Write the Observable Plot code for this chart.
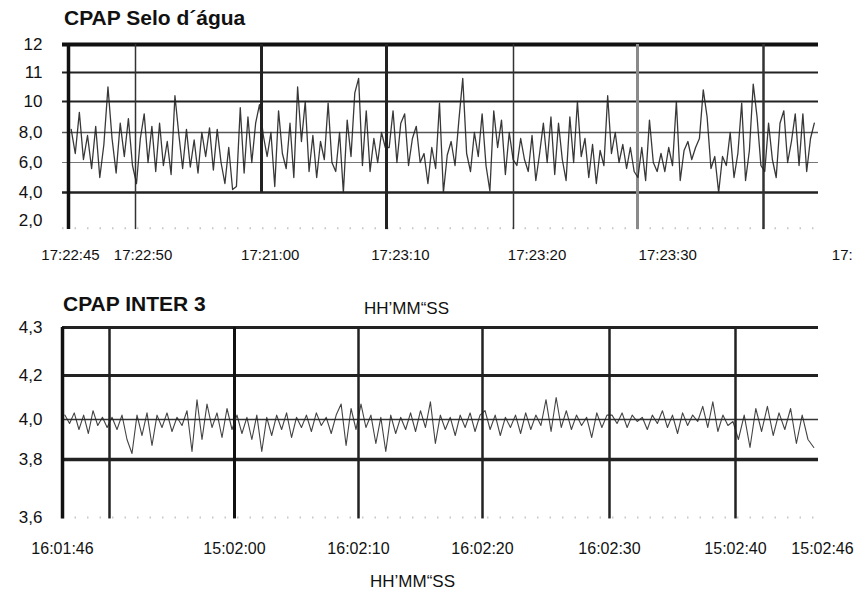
<!DOCTYPE html>
<html><head><meta charset="utf-8">
<script src="https://cdn.jsdelivr.net/npm/d3@7"></script>
<script src="https://cdn.jsdelivr.net/npm/@observablehq/plot@0.6"></script>
<style>
body{margin:0;background:#fff;font-family:"Liberation Sans",Arial,sans-serif;}
#wrap{position:relative;width:859px;height:594px;overflow:hidden;background:#fff;}
.abs{position:absolute;white-space:nowrap;color:#111;}
.title{font-weight:bold;font-size:21px;line-height:21px;}
.unit{font-size:17px;line-height:17px;}
.narrow{font-family:"Liberation Sans Narrow","Liberation Sans",Arial,sans-serif;}
</style></head><body><div id="wrap"></div>
<script>
// ---- text ----
const topTitle = "CPAP Selo d´água";
const bottomTitle = "CPAP INTER 3";
const axisTitle = "HH’MM“SS";

// ---- top panel ----
const topYTicks = [2, 4, 6, 8, 10, 11, 12];
const topYLabels = ["2,0", "4,0", "6,0", "8,0", "10", "11", "12"];
const topGridSecs = [45, 50, 60, 70, 80, 90, 100];
const topXLabelSecs = [45.15, 50.6, 60.7, 71.1, 81.9, 92.4, 106.3];
const topXLabels = ["17:22:45", "17:22:50", "17:21:00", "17:23:10", "17:23:20", "17:23:30", "17:"];
const topStart = 45.2, topStep = 0.305;
const topValues = [
  8.2, 6.6, 9.3, 6.2, 7.8, 5.6, 8.4, 5.0, 7.2, 10.5, 7.6, 5.3, 8.6, 6.4, 8.9, 5.8,
  4.6, 7.6, 9.2, 6.0, 8.4, 5.4, 8.6, 5.8, 7.4, 5.2, 10.2, 7.9, 5.6, 8.2, 5.7, 7.5, 5.3, 8.0, 6.4, 8.3, 5.5, 8.2, 6.0, 4.6, 7.0, 4.2, 4.4, 9.6, 5.3, 9.0, 6.0, 8.6, 9.8,
  7.8, 6.4, 8.0, 4.4, 9.4, 6.6, 5.6, 8.6, 5.0, 10.5, 7.4, 10.0, 5.4, 7.8, 5.0, 7.4, 6.2, 9.9, 6.0, 5.4, 8.0, 4.0, 8.8, 6.4, 10.3, 10.8, 5.8, 9.4, 5.4, 7.6, 6.0, 8.0, 7.0,
  7.0, 9.4, 6.0, 8.6, 9.2, 5.8, 7.6, 8.4, 6.0, 6.6, 4.6, 7.0, 5.6, 9.9, 4.0, 6.5, 7.4, 5.8, 8.8, 10.8, 6.6, 5.4, 8.0, 6.4, 9.2, 5.8, 4.1, 9.4, 7.0, 8.8, 5.2, 8.0, 6.2,
  5.8, 7.6, 6.2, 5.4, 7.8, 4.8, 6.6, 8.6, 6.0, 9.0, 5.2, 8.6, 6.2, 4.8, 9.0, 6.0, 10.0, 6.4, 7.6, 5.0, 7.2, 4.6, 6.8, 5.8, 10.2, 6.6, 8.0, 6.0, 7.2, 5.6, 7.0, 5.4, 5.0,
  7.0, 4.8, 8.8, 6.0, 5.4, 6.6, 5.4, 7.0, 5.8, 10.0, 4.8, 6.8, 7.4, 6.2, 7.0, 7.6, 10.4, 9.0, 5.6, 6.4, 4.0, 6.4, 5.8, 8.0, 5.0, 6.6, 9.9, 4.8, 6.8, 10.6, 9.0, 5.8, 5.4,
  8.6, 6.2, 5.0, 8.6, 9.4, 6.0, 7.4, 9.2, 5.8, 9.2, 5.4, 7.6, 8.6
];

// ---- bottom panel ----
const botYTicks = [3.6, 3.8, 4.0, 4.2, 4.3];
const botYLabels = ["3,6", "3,8", "4,0", "4,2", "4,3"];
const botGridSecs = [46, 50, 60, 70, 80, 90, 100];
const botXLabelSecs = [46, 60, 70, 80, 90, 100, 106];
const botXLabels = ["16:01:46", "15:02:00", "16:02:10", "16:02:20", "16:02:30", "15:02:40", "15:02:46"];
const botStart = 46.2, botStep = 0.4;
const botValues = [
  4.02, 3.98, 4.03, 3.95, 4.02, 3.93, 4.04, 3.97, 4.01, 3.96,
  4.01, 3.95, 4.02, 3.90, 3.83, 4.02, 3.92, 4.03, 3.87, 4.02, 3.96, 4.03, 3.94, 4.01, 3.97, 4.04, 3.84, 4.09, 3.90, 4.07, 3.96, 4.03, 3.91, 4.05, 3.95,
  4.02, 3.93, 4.01, 3.90, 4.02, 3.84, 4.01, 3.92, 4.02, 3.95, 4.03, 3.91, 4.01, 3.96, 4.02, 3.94, 4.03, 3.97, 4.01, 3.93, 4.02, 4.07, 3.87, 4.05, 3.95,
  4.07, 3.96, 4.02, 3.88, 4.01, 3.84, 4.02, 3.93, 4.01, 3.95, 4.03, 3.94, 4.04, 3.96, 4.08, 3.88, 4.02, 3.95, 4.01, 3.92, 4.02, 3.96, 4.03, 3.94, 4.02,
  4.04, 3.95, 4.02, 3.92, 4.01, 3.96, 4.02, 3.93, 4.03, 3.95, 4.02, 3.97, 4.09, 3.94, 4.10, 3.96, 4.04, 3.95, 4.02, 3.97, 4.01, 3.91, 4.03, 3.96, 4.02,
  4.02, 3.98, 4.03, 3.96, 4.02, 3.99, 4.01, 3.95, 4.02, 3.98, 4.04, 3.96, 4.02, 3.93, 4.03, 3.97, 4.02, 3.99, 4.06, 3.96, 4.08, 3.94, 4.02, 3.97, 3.99,
  3.90, 4.02, 3.86, 4.05, 3.94, 4.06, 3.92, 4.03, 3.95, 4.05, 3.88, 4.02, 3.90, 3.86
];

// ---- build ----
const wrap = document.getElementById("wrap");
const FONT = '"Liberation Sans", Arial, sans-serif';
const NARROW = '"Liberation Sans Narrow", "Liberation Sans", Arial, sans-serif';
const mapOf = (k, v) => new Map(k.map((d, i) => [d, v[i]]));

const topYMap = mapOf(topYTicks, topYLabels);
const topXMap = mapOf(topXLabelSecs, topXLabels);
const botYMap = mapOf(botYTicks, botYLabels);
const botXMap = mapOf(botXLabelSecs, botXLabels);

// line styles (width, colour) by grid value
const topHStyle = new Map([[12, [4, "#111"]], [11, [2, "#222"]], [10, [2, "#222"]], [8, [1.5, "#555"]], [6, [1.2, "#777"]], [4, [2.5, "#222"]]]);
const topVStyle = new Map([[45, [3.5, "#111"]], [50, [1.5, "#333"]], [60, [3, "#222"]], [70, [3, "#222"]], [80, [1.5, "#333"]], [90, [3, "#8a8a8a"]], [100, [2.5, "#333"]]]);
const botHStyle = new Map([[4.3, [3, "#222"]], [4.2, [3, "#222"]], [4.0, [1.5, "#333"]], [3.8, [3.5, "#222"]]]);
const botVStyle = new Map([[46, [3.5, "#111"]], [50, [2.5, "#222"]], [60, [3, "#111"]], [70, [2.5, "#222"]], [80, [2.5, "#222"]], [90, [2.5, "#222"]], [100, [2.5, "#222"]]]);

const topPlot = Plot.plot({
  width: 859, height: 270,
  marginLeft: 62, marginRight: 41, marginTop: 44, marginBottom: 23,
  style: {position: "absolute", left: "0px", top: "0px", background: "transparent", fontFamily: FONT, color: "#111"},
  x: {type: "linear", domain: [44.5, 45, 50, 60, 70, 80, 90, 100, 104.4], range: [62, 68, 135, 261, 386, 513, 637, 763, 818]},
  y: {type: "linear", domain: topYTicks, range: [220, 192, 162, 132, 101, 72, 44]},
  marks: [
    Plot.ruleY([1.45], {stroke: "#c8c8c8", strokeWidth: 2, strokeDasharray: "1.5,11"}),
    Plot.ruleY(topYTicks.filter(v => topHStyle.has(v)), {stroke: d => topHStyle.get(d)[1], strokeWidth: d => topHStyle.get(d)[0]}),
    Plot.ruleX(topGridSecs, {y1: 12, y2: d => d === 60 ? 4 : 1.35, stroke: d => topVStyle.get(d)[1], strokeWidth: d => topVStyle.get(d)[0]}),
    Plot.line(topValues, {x: (d, i) => topStart + i * topStep, y: d => d, stroke: "#222", strokeWidth: 1.3, strokeOpacity: 0.9}),
    Plot.axisY(topYTicks, {tickSize: 0, tickPadding: 20, tickFormat: d => topYMap.get(d), fontSize: 17, label: null}),
    Plot.axisX(topXLabelSecs, {tickSize: 0, tickPadding: 2, tickFormat: d => topXMap.get(d), fontSize: 15, label: null})
  ]
});

const off = 270;
const botPlot = Plot.plot({
  width: 859, height: 324,
  marginLeft: 62, marginRight: 41, marginTop: 57, marginBottom: 56,
  style: {position: "absolute", left: "0px", top: off + "px", background: "transparent", fontFamily: FONT, color: "#111"},
  x: {type: "linear", domain: [46, 50, 60, 70, 80, 90, 100, 106], range: [62, 109, 234, 358, 482, 609, 735, 822]},
  y: {type: "linear", domain: botYTicks, range: [517, 459, 419, 375, 327].map(v => v - off)},
  marks: [
    Plot.ruleY([3.6], {stroke: "#c8c8c8", strokeWidth: 2, strokeDasharray: "1.5,11"}),
    Plot.ruleY(botYTicks.filter(v => botHStyle.has(v)), {stroke: d => botHStyle.get(d)[1], strokeWidth: d => botHStyle.get(d)[0]}),
    Plot.ruleX(botGridSecs, {y1: 4.3, y2: 3.595, stroke: d => botVStyle.get(d)[1], strokeWidth: d => botVStyle.get(d)[0]}),
    Plot.line(botValues, {x: (d, i) => botStart + i * botStep, y: d => d, stroke: "#222", strokeWidth: 1.1, strokeOpacity: 0.85}),
    Plot.axisY(botYTicks, {tickSize: 0, tickPadding: 20, tickFormat: d => botYMap.get(d), fontSize: 17, label: null}),
    Plot.axisX(botXLabelSecs, {tickSize: 0, tickPadding: 4, tickFormat: d => botXMap.get(d), fontSize: 16, fontFamily: NARROW, label: null})
  ]
});

wrap.appendChild(topPlot);
wrap.appendChild(botPlot);

function addText(txt, cls, left, top) {
  const el = document.createElement("div");
  el.className = "abs " + cls;
  el.style.left = left + "px";
  el.style.top = top + "px";
  el.textContent = txt;
  wrap.appendChild(el);
}
addText(topTitle, "title", 64, 7);
addText(bottomTitle, "title", 63, 293);
addText(axisTitle, "unit", 364, 300);
addText(axisTitle, "unit narrow", 370, 573);
</script></body></html>
